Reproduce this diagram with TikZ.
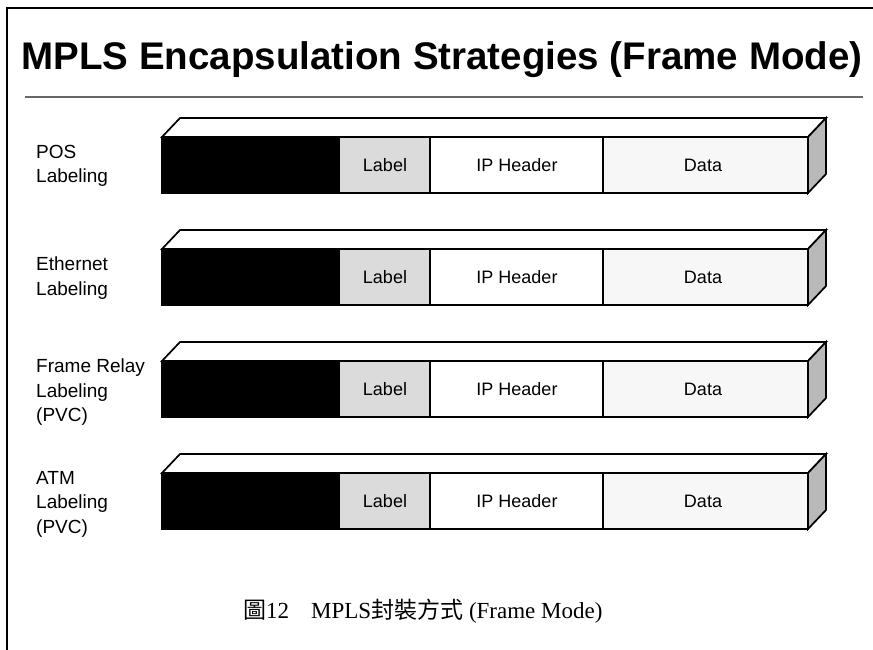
\documentclass[tikz,border=0pt]{standalone}
\usepackage{fontspec}
\setmainfont{Liberation Serif}
\setsansfont{Liberation Sans}
\newfontfamily\cjk{Noto Sans CJK TC}
\begin{document}
\begin{tikzpicture}[x=1pt,y=-1pt,
  edge/.style={line width=1.7pt, line join=miter},
  seglabel/.style={font=\sffamily\fontsize{18}{20}\selectfont, inner sep=0pt},
  sidelabel/.style={font=\sffamily\fontsize{19}{24.5}\selectfont, align=left, anchor=north west, inner sep=0pt},
  caption/.style={font=\fontsize{23}{26}\selectfont, inner sep=0pt, anchor=base west}]
\useasboundingbox (0,0) rectangle (873,650);
\fill[white] (0,0) rectangle (873,650);
% frame
\draw[line width=1.4pt] (7,650) -- (7,8) -- (873,8);
% title
\node[font=\sffamily\bfseries\fontsize{38.5}{44}\selectfont, inner sep=0pt] (title) at (442,60) {MPLS Encapsulation Strategies (Frame Mode)};
\draw[line width=2.6pt, black!60] (25,97) -- (863,97);
% bars
\foreach \i/\t in {1/137,2/249,3/361,4/473} {
  \pgfmathsetmacro\b{\t+56}
  \draw[edge, fill=white] (162,\t) -- (180,\t-19) -- (826,\t-19) -- (808,\t) -- cycle;
  \draw[edge, fill=gray!55] (808,\t) -- (826,\t-19) -- (826,\b-19) -- (808,\b) -- cycle;
  \fill[black] (162,\t) rectangle (340,\b);
  \fill[gray!28] (340,\t) rectangle (430,\b);
  \fill[gray!6] (603,\t) rectangle (808,\b);
  \draw[edge] (162,\t) rectangle (808,\b);
  \draw[edge] (430,\t) -- (430,\b);
  \draw[edge] (603,\t) -- (603,\b);
  \node[seglabel] (lab\i) at (385,\t+28) {Label};
  \node[seglabel] (iph\i) at (517,\t+28) {IP Header};
  \node[seglabel] (dat\i) at (703,\t+28) {Data};
}
% side labels
\node[sidelabel] (pos) at (36,145) {POS\\Labeling};
\node[sidelabel] (eth) at (36,257) {Ethernet\\Labeling};
\node[sidelabel] (fr) at (36,359) {Frame Relay\\Labeling\\(PVC)};
\node[sidelabel] (atm) at (36,471) {ATM\\Labeling\\(PVC)};
% caption
\node[caption] (fig) at (243,618) {{\cjk 圖}12};
\node[caption] (cap) at (311,618) {MPLS{\cjk 封裝方式}\ (Frame Mode)};
\end{tikzpicture}
\end{document}
